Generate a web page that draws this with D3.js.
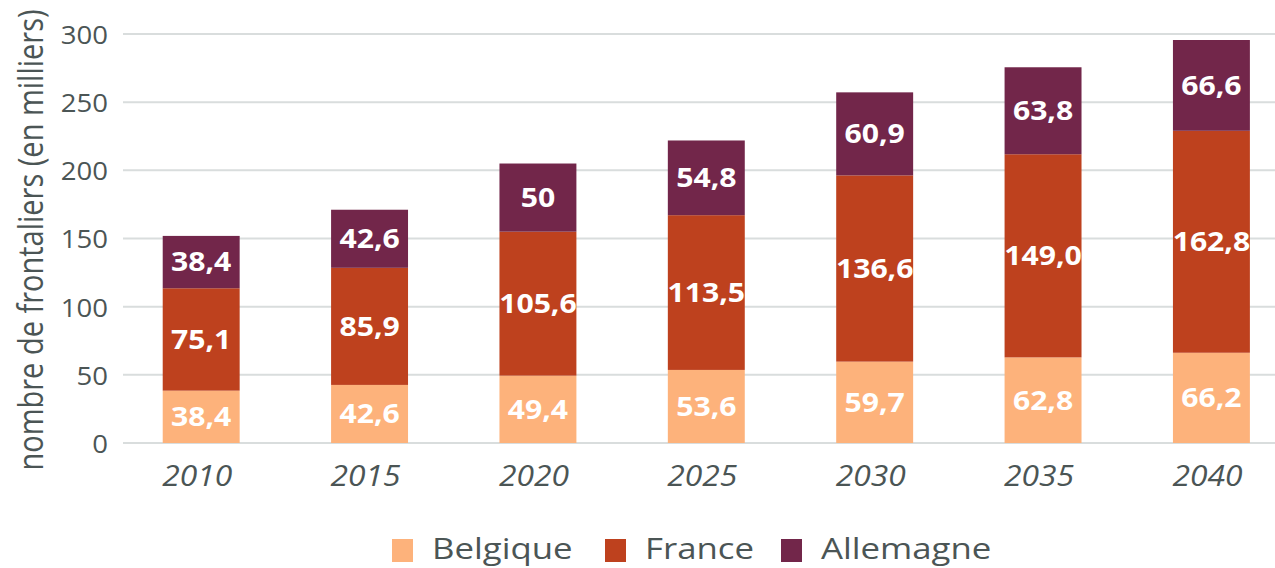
<!DOCTYPE html>
<html><head><meta charset="utf-8">
<script src="https://cdn.jsdelivr.net/npm/d3@7"></script>
<style>body{margin:0;background:#fff}svg{display:block;font-family:"Open Sans",sans-serif}</style>
</head><body><svg id="c" width="1275" height="568"></svg>
<script>
const years = ["2010","2015","2020","2025","2030","2035","2040"];
const series = ["Belgique","France","Allemagne"];
const belgique = [38.4,42.6,49.4,53.6,59.7,62.8,66.2];
const france = [75.1,85.9,105.6,113.5,136.6,149.0,162.8];
const allemagne = [38.4,42.6,50,54.8,60.9,63.8,66.6];
const belgiqueLabels = ["38,4","42,6","49,4","53,6","59,7","62,8","66,2"];
const franceLabels = ["75,1","85,9","105,6","113,5","136,6","149,0","162,8"];
const allemagneLabels = ["38,4","42,6","50","54,8","60,9","63,8","66,6"];
const yTicks = [0,50,100,150,200,250,300];
const colors = ["#FDB27B","#BE411E","#72264A"];
const textColor = "#4b5555";

const svg = d3.select("#c");
const x = d3.scaleBand().domain(years).range([117,1295.6]).paddingInner(0.543).paddingOuter(0.2715);
const y = d3.scaleLinear().domain([0,300]).range([443,34]);

// gridlines
svg.append("g").selectAll("line").data(yTicks).join("line")
  .attr("x1",123).attr("x2",1275).attr("y1",d=>y(d)).attr("y2",d=>y(d))
  .attr("stroke","#d9dddd").attr("stroke-width",2);

// y tick labels
const yAxis = d3.axisLeft(y).tickValues(yTicks).tickSize(0).tickPadding(0);
const ga = svg.append("g").attr("transform","translate(108,0)").call(yAxis);
ga.select(".domain").remove();
ga.selectAll("text").attr("font-size",26).attr("fill",textColor).attr("font-family","Open Sans")
  .attr("x",0).attr("dy","0.36em").attr("transform","scale(1.06,1)");

// x labels
const xAxis = d3.axisBottom(x).tickSize(0).tickPadding(0);
const gx = svg.append("g").attr("transform","translate(-4,486)").call(xAxis);
gx.select(".domain").remove();
gx.selectAll("text").attr("font-size",30).attr("font-style","italic").attr("fill",textColor)
  .attr("font-family","Open Sans").attr("y",0).attr("dy",0).attr("transform","scale(1.06,1)");

// y axis title
svg.append("text").attr("transform","translate(43,240) scale(1.2,1) rotate(-90)").attr("text-anchor","middle")
  .attr("font-size",29).attr("fill",textColor).text("nombre de frontaliers (en milliers)");

// stacked
const data = years.map((yr,i)=>({year:yr,Belgique:belgique[i],France:france[i],Allemagne:allemagne[i]}));
const labels = [belgiqueLabels,franceLabels,allemagneLabels];
const stack = d3.stack().keys(series)(data);
stack.forEach((layer,k)=>{
  const g = svg.append("g");
  g.selectAll("rect").data(layer).join("rect")
    .attr("x",d=>x(d.data.year)).attr("width",x.bandwidth())
    .attr("y",d=>y(d[1])).attr("height",d=>y(d[0])-y(d[1]))
    .attr("fill",colors[k]);
  g.selectAll("text").data(layer).join("text")
    .attr("transform",d=>`translate(${x(d.data.year)+x.bandwidth()/2},${(y(d[0])+y(d[1]))/2}) scale(1.16,1)`)
    .attr("dy","0.36em")
    .attr("text-anchor","middle").attr("font-weight","bold").attr("font-size",26)
    .attr("fill","#fff").text((d,i)=>labels[k][i]);
});

// legend
const legendX = [392,605,781];
const lg = svg.append("g");
series.forEach((s,k)=>{
  lg.append("rect").attr("x",legendX[k]).attr("y",539).attr("width",21).attr("height",23).attr("fill",colors[k]);
  lg.append("text").attr("transform",`translate(${legendX[k]+40},559) scale(1.2,1)`)
    .attr("font-size",29).attr("fill",textColor).text(s);
});
</script></body></html>
